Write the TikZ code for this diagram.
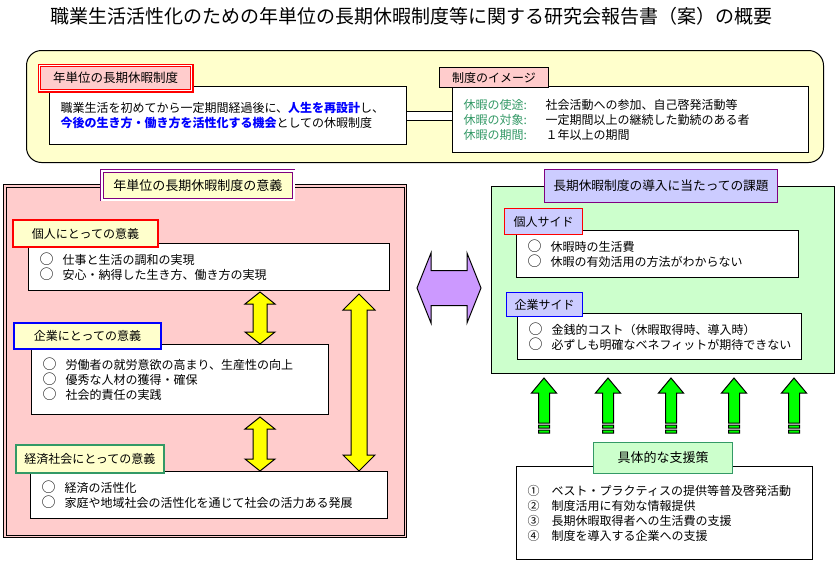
\documentclass[tikz,border=0pt]{standalone}
\usepackage{fontspec}
\setmainfont{Noto Sans CJK JP}
\usetikzlibrary{calc}
\definecolor{bgyellow}{HTML}{FFFFCC}
\definecolor{bgpink}{HTML}{FFCCCC}
\definecolor{bggreen}{HTML}{CCFFCC}
\definecolor{bglav}{HTML}{CCCCFF}
\definecolor{arrpurple}{HTML}{CC99FF}
\definecolor{arryellow}{HTML}{FFFF00}
\definecolor{arrgreen}{HTML}{00FF00}
\definecolor{txtgreen}{HTML}{339966}
\definecolor{brdpurple}{HTML}{800080}
\definecolor{brdgreen}{HTML}{339966}
\definecolor{txtblue}{HTML}{0000FF}
\newcommand{\maru}{\makebox[23pt][l]{\fontsize{14}{14}\selectfont ○}}
\newcommand{\vdblarrow}[6]{%
 \draw[#1] let \p1=(#2), \p2=(#3) in
 (\x1,\y1) -- ({\x1+#5},{\y1-#6}) -- ({\x1+#4},{\y1-#6}) -- ({\x1+#4},{\y2+#6}) -- ({\x1+#5},{\y2+#6}) -- (\x1,\y2) -- ({\x1-#5},{\y2+#6}) -- ({\x1-#4},{\y2+#6}) -- ({\x1-#4},{\y1-#6}) -- ({\x1-#5},{\y1-#6}) -- cycle;}
\newcommand{\hdblarrow}[6]{%
 \draw[#1] let \p1=(#2), \p2=(#3) in
 (\x1,\y1) -- ({\x1+#6},{\y1+#5}) -- ({\x1+#6},{\y1+#4}) -- ({\x2-#6},{\y1+#4}) -- ({\x2-#6},{\y1+#5}) -- (\x2,\y1) -- ({\x2-#6},{\y1-#5}) -- ({\x2-#6},{\y1-#4}) -- ({\x1+#6},{\y1-#4}) -- ({\x1+#6},{\y1-#5}) -- cycle;}
\newcommand{\upblkarrow}[6]{%
 \draw[#1] let \p1=(#2), \p2=(#3) in
 (\x1,\y1) -- ({\x1+#5},{\y1-#6}) -- ({\x1+#4},{\y1-#6}) -- ({\x1+#4},\y2) -- ({\x1-#4},\y2) -- ({\x1-#4},{\y1-#6}) -- ({\x1-#5},{\y1-#6}) -- cycle
 ({\x1-#4},{\y2-2pt}) rectangle ({\x1+#4},{\y2-5pt})
 ({\x1-#4},{\y2-7pt}) rectangle ({\x1+#4},{\y2-10pt});}
\begin{document}
\begin{tikzpicture}[x=1pt,y=-1pt,
 wbox/.style={draw=black, line width=1pt, fill=white, anchor=north west, align=left, inner xsep=11pt, inner ysep=0pt, font=\fontsize{12}{15}\selectfont},
 lbl/.style={anchor=north west, inner sep=0pt, align=center, font=\fontsize{12}{15}\selectfont},
 panel/.style={anchor=north west, inner sep=0pt, line width=1pt, draw=black},
 yarrow/.style={draw=black, line width=1pt, fill=arryellow, line join=miter},
 parrow/.style={draw=black, line width=1pt, fill=arrpurple},
 garrow/.style={draw=black, line width=1pt, fill=arrgreen},
 dblline/.style={draw=black, line width=1pt, double=white, double distance=8pt}
]
\useasboundingbox (0,0) rectangle (837,562);
\node[font=\fontsize{19}{22}\selectfont, inner sep=0pt] (title) at (411,16) {職業生活活性化のための年単位の長期休暇制度等に関する研究会報告書（案）の概要};

% top section
\node[panel, fill=bgyellow, rounded corners=15pt, minimum width=797pt, minimum height=112pt] (top) at (26,50) {};
\node[wbox, text width=335pt, minimum height=58pt] (tw) at (49,86) {職業生活を初めてから一定期間経過後に、\textcolor{txtblue}{\bfseries 人生を再設計}し、\\\textcolor{txtblue}{\bfseries 今後の生き方・働き方を活性化する機会}としての休暇制度};
\node[wbox, text width=334pt, minimum height=66pt] (img) at (452,86) {\makebox[82pt][l]{\textcolor{txtgreen}{休暇の使途:}}社会活動への参加、自己啓発活動等\\\makebox[82pt][l]{\textcolor{txtgreen}{休暇の対象:}}一定期間以上の継続した勤続のある者\\\makebox[82pt][l]{\textcolor{txtgreen}{休暇の期間:}}１年以上の期間};
\draw[dblline] (tw.east) -- (tw.east -| img.west);
\node[lbl, draw=red, line width=1.2pt, double=white, double distance=1.2pt, fill=bgpink, minimum width=152.4pt, minimum height=25.4pt, font=\fontsize{12.5}{15}\selectfont] (ltop) at (38.8,64.8) {年単位の長期休暇制度};
\node[lbl, draw=black, line width=1pt, fill=bgpink, minimum width=109pt, minimum height=20pt] (limg) at (439,67) {制度のイメージ};

% left panel
\node[panel, fill=bgpink, minimum width=403pt, minimum height=353pt] (lp) at (3,184) {};
\draw[line width=1pt] ($(lp.north west)+(3,3)$) rectangle ($(lp.south east)+(-3,-3)$);
\node[lbl, draw=brdpurple, line width=0.8pt, double=white, double distance=1.6pt, fill=bgyellow, minimum width=191.8pt, minimum height=28.8pt, font=\fontsize{13}{15}\selectfont] (ltitle) at (101.6,170.6) {年単位の長期休暇制度の意義};
\node[wbox, text width=339pt, minimum height=47pt] (w1) at (28,243) {\maru 仕事と生活の調和の実現\\\maru 安心・納得した生き方、働き方の実現};
\node[wbox, text width=275pt, minimum height=70pt] (w2) at (31,344) {\maru 労働者の就労意欲の高まり、生産性の向上\\\maru 優秀な人材の獲得・確保\\\maru 社会的責任の実践};
\node[wbox, text width=335pt, minimum height=47pt] (w3) at (30,471) {\maru 経済の活性化\\\maru 家庭や地域社会の活性化を通じて社会の活力ある発展};
\node[lbl, draw=red, line width=2pt, fill=bgyellow, minimum width=145pt, minimum height=27pt] (l1) at (12,219) {個人にとっての意義};
\node[lbl, draw=blue, line width=2pt, fill=bgyellow, minimum width=147pt, minimum height=26pt] (l2) at (13,322) {企業にとっての意義};
\node[lbl, draw=brdgreen, line width=1.6pt, fill=bgyellow, minimum width=148pt, minimum height=28pt] (l3) at (15,444) {経済社会にとっての意義};

\coordinate (yx1) at (260,0);
\coordinate (yx2) at (359,0);
\vdblarrow{yarrow}{$(yx1 |- w1.south)+(0,1)$}{yx1 |- w2.north}{7pt}{15pt}{12pt}
\vdblarrow{yarrow}{$(yx1 |- w2.south)+(0,2)$}{yx1 |- w3.north}{7pt}{15pt}{12pt}
\vdblarrow{yarrow}{$(yx2 |- w1.south)+(0,3)$}{yx2 |- w3.north}{8pt}{16pt}{16pt}

% middle arrow
\coordinate (pl) at (417,288);
\coordinate (pr) at (481,288);
\hdblarrow{parrow}{pl}{pr}{17.5pt}{35pt}{14pt}

% right panel
\node[panel, fill=bggreen, minimum width=343pt, minimum height=187pt] (gp) at (491,186) {};
\node[lbl, draw=brdpurple, line width=1pt, fill=bglav, minimum width=233pt, minimum height=33pt, font=\fontsize{12.7}{15}\selectfont] (rtitle) at (544,169) {長期休暇制度の導入に当たっての課題};
\node[wbox, text width=260pt, minimum height=47pt] (r1) at (516,230) {\maru 休暇時の生活費\\\maru 休暇の有効活用の方法がわからない};
\node[wbox, text width=262pt, minimum height=46pt] (r2) at (517,313) {\maru 金銭的コスト（休暇取得時、導入時）\\\maru 必ずしも明確なベネフィットが期待できない};
\node[lbl, draw=red, line width=1pt, fill=bglav, minimum width=78pt, minimum height=26pt] (rl1) at (504,208) {個人サイド};
\node[lbl, draw=blue, line width=1pt, fill=bglav, minimum width=76pt, minimum height=24pt] (rl2) at (506,292) {企業サイド};

% support box
\node[wbox, text width=274pt, minimum height=93pt] (sb) at (516,466) {①　ベスト・プラクティスの提供等普及啓発活動\\②　制度活用に有効な情報提供\\③　長期休暇取得者への生活費の支援\\④　制度を導入する企業への支援};
\node[lbl, draw=brdgreen, line width=1pt, fill=bggreen, minimum width=139pt, minimum height=31pt, font=\fontsize{13}{15}\selectfont] (sup) at (593,442) {具体的な支援策};

\foreach \gx in {544,608,671,734,794} {
 \coordinate (gx) at (\gx,0);
 \upblkarrow{garrow}{$(gx |- gp.south)+(0,4)$}{$(gx |- sup.north)+(0,-19)$}{5.5pt}{12.5pt}{15pt}
}
\end{tikzpicture}
\end{document}
